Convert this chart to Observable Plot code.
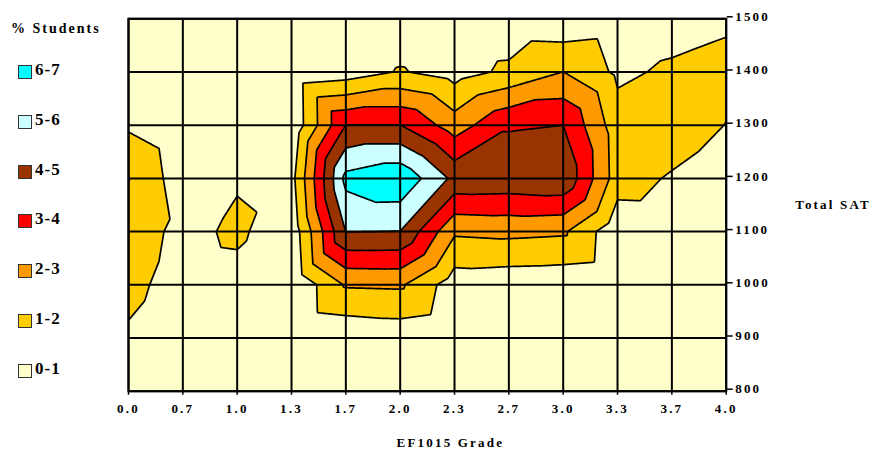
<!DOCTYPE html>
<html>
<head>
<meta charset="utf-8">
<script src="https://cdn.jsdelivr.net/npm/d3@7"></script>
<script src="https://cdn.jsdelivr.net/npm/@observablehq/plot@0.6"></script>
<style>
  html, body { margin: 0; padding: 0; background: #fff; }
  #chart { position: relative; width: 874px; height: 457px; overflow: hidden; }
  #chart svg { position: absolute; left: 0; top: 0; }
  #chart svg text {
    font-family: "Liberation Serif", "Times New Roman", serif;
    font-weight: bold; font-size: 13px; letter-spacing: 2.2px; fill: #000;
  }
  .legend { position: absolute; left: 0; top: 0; font-family: "Liberation Serif", "Times New Roman", serif; font-weight: bold; color: #000; }
  .legend-title { position: absolute; left: 11px; top: 20px; font-size: 14px; line-height: 18px; letter-spacing: 2px; white-space: nowrap; }
  .swatch { position: absolute; left: 18px; width: 14px; height: 14px; box-sizing: border-box; border: 1.5px solid #333; }
  .legend-label { position: absolute; left: 35px; font-size: 17px; line-height: 20px; letter-spacing: 1px; white-space: nowrap; }
</style>
</head>
<body>
<div id="chart"></div>
<script>
// EF1015 grade columns (drawn evenly spaced) and Total SAT rows
const grades = ["0.0", "0.7", "1.0", "1.3", "1.7", "2.0", "2.3", "2.7", "3.0", "3.3", "3.7", "4.0"];
const satScores = [800, 900, 1000, 1100, 1200, 1300, 1400, 1500];

// % of students at each grade, one row per SAT score
const sat800  = [0.3, 0.1, 0.1, 0.0, 0.0, 0.0, 0.0, 0.0, 0.0, 0.0, 0.0, 0.0];
const sat900  = [0.85, 0.3, 0.2, 0.0, 0.2, 0.35, 0.1, 0.1, 0.05, 0.0, 0.0, 0.0];
const sat1000 = [1.3, 0.53, 0.61, 0.05, 2.1, 2.15, 0.45, 0.35, 0.3, 0.15, 0.1, 0.0];
const sat1100 = [1.6, 0.68, 1.2, 0.3, 5.02, 4.98, 2.15, 2.25, 2.15, 0.26, 0.31, 0.1];
const sat1200 = [2.03, 0.42, 0.9, 0.65, 6.3, 6.8, 4.75, 4.7, 4.85, 1.5, 0.88, 0.28];
const sat1300 = [0.85, 0.2, 0.25, 0.15, 4.02, 4.02, 2.5, 3.9, 4.0, 1.43, 1.7, 0.97];
const sat1400 = [0.4, 0.15, 0.15, 0.2, 0.47, 1.08, 0.57, 1.21, 2.01, 0.81, 1.16, 1.38];
const sat1500 = [0.2, 0.1, 0.1, 0.05, 0.1, 0.3, 0.2, 0.28, 0.21, 0.4, 0.56, 0.8];

// contour bands
const bandLabels = ["0-1", "1-2", "2-3", "3-4", "4-5", "5-6", "6-7"];
const bandColors = ["#FFFFCC", "#FFCC00", "#FF9900", "#FF0000", "#993300", "#CCFFFF", "#00FFFF"];
const thresholds = [1, 2, 3, 4, 5, 6];

// one node per grade and SAT score, row by row from 800 up
const rows = [sat800, sat900, sat1000, sat1100, sat1200, sat1300, sat1400, sat1500];
const nodes = rows.flatMap((row, j) => row.map((value, i) => ({col: i, sat: satScores[j], value})));
const colIndex = d3.range(grades.length);

// Surface between the nodes: each grid cell is cut into two triangles along the
// diagonal with the larger corner sum, and the value is linear inside each triangle.
function triangulated(index, width, height, X, Y, V) {
  const nc = grades.length, nr = satScores.length;
  const cx = d3.range(nc).map((i) => X[i]);
  const ry = d3.range(nr).map((j) => Y[j * nc]);
  const clamp = (t) => Math.max(0, Math.min(1, t));
  const F = new Float64Array(width * height);
  for (let py = 0; py < height; ++py) {
    const y = py + 0.5;
    let j = 0;
    while (j < nr - 2 && y < ry[j + 1]) ++j;
    const v = clamp((ry[j] - y) / (ry[j] - ry[j + 1]));
    let i = 0;
    for (let px = 0; px < width; ++px) {
      const x = px + 0.5;
      while (i < nc - 2 && x > cx[i + 1]) ++i;
      const u = clamp((x - cx[i]) / (cx[i + 1] - cx[i]));
      const bl = V[j * nc + i], br = V[j * nc + i + 1];
      const tl = V[(j + 1) * nc + i], tr = V[(j + 1) * nc + i + 1];
      let f;
      if (tl + br >= bl + tr) {
        f = u + v <= 1
          ? bl + u * (br - bl) + v * (tl - bl)
          : tr + (1 - u) * (tl - tr) + (1 - v) * (br - tr);
      } else {
        f = u >= v
          ? bl + u * (br - bl) + v * (tr - br)
          : bl + v * (tl - bl) + u * (tr - tl);
      }
      F[py * width + px] = f;
    }
  }
  return F;
}

const chart = Plot.plot({
  width: 874,
  height: 457,
  marginLeft: 128,
  marginRight: 148.3,
  marginTop: 18.3,
  marginBottom: 66.3,
  x: {domain: [0, grades.length - 1]},
  y: {domain: [800, 1500]},
  color: {type: "ordinal", domain: thresholds, range: bandColors.slice(1)},
  marks: [
    Plot.frame({fill: bandColors[0]}),
    Plot.contour(nodes, {
      x: "col",
      y: "sat",
      fill: "value",
      interpolate: triangulated,
      pixelSize: 1,
      thresholds,
      stroke: "#000",
      strokeWidth: 1.7,
      clip: true
    }),
    Plot.gridX(colIndex, {stroke: "#000", strokeOpacity: 1, strokeWidth: 2}),
    Plot.gridY(satScores, {stroke: "#000", strokeOpacity: 1, strokeWidth: 2}),
    Plot.frame({stroke: "#000", strokeWidth: 2}),
    Plot.axisX(colIndex, {
      tickFormat: (i) => grades[i],
      tickSize: 4, tickPadding: 9, stroke: "#000", strokeWidth: 1.5, label: null
    }),
    Plot.axisY(satScores, {
      anchor: "right", tickFormat: (d) => String(d),
      tickSize: 6, tickPadding: 3, dy: -2, stroke: "#000", strokeWidth: 1.5, label: null
    }),
    Plot.text(["EF1015 Grade"], {frameAnchor: "bottom", dx: 23, dy: 56}),
    Plot.text(["Total SAT"], {frameAnchor: "right", textAnchor: "start", dx: 69})
  ]
});

const root = document.getElementById("chart");
root.appendChild(chart);

// legend on the left
const legend = document.createElement("div");
legend.className = "legend";
const title = document.createElement("div");
title.className = "legend-title";
title.textContent = "% Students";
legend.appendChild(title);
const order = d3.range(bandLabels.length).reverse();
order.forEach((b, k) => {
  const cy = 72 + 49.8 * k;
  const sw = document.createElement("div");
  sw.className = "swatch";
  sw.style.top = (cy - 7) + "px";
  sw.style.background = bandColors[b];
  const lab = document.createElement("div");
  lab.className = "legend-label";
  lab.style.top = (cy - 2 - 10) + "px";
  lab.textContent = bandLabels[b];
  legend.appendChild(sw);
  legend.appendChild(lab);
});
root.appendChild(legend);
</script>
</body>
</html>
